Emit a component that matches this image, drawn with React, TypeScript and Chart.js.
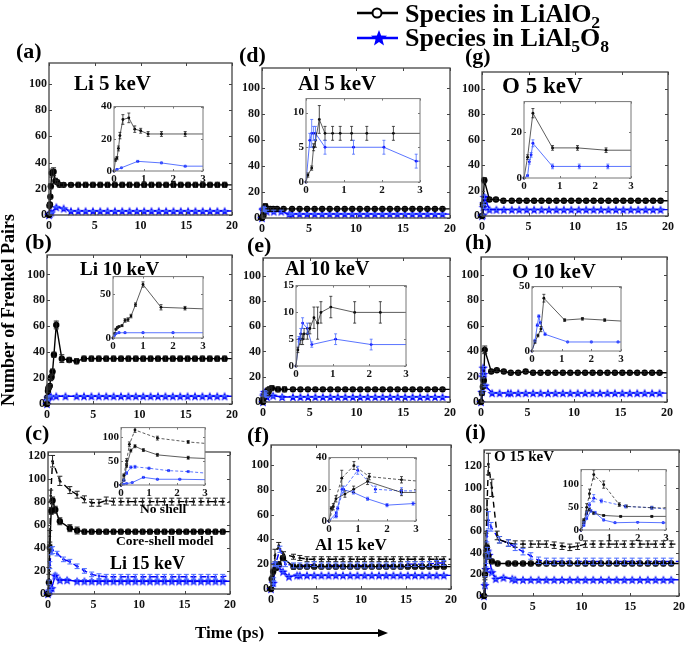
import React, { useEffect, useRef } from "react";
import { Chart, registerables } from "chart.js";
Chart.register(...registerables);

const SERIF = "'Liberation Serif', 'Times New Roman', Times, serif";
const BLUE = "#0000ff";

// ---------------- data ----------------
const LATE_T = [3.2, 4.0, 4.8, 5.6, 6.4, 7.2, 8.0, 8.8, 9.6, 10.4, 11.2,
  12.0, 12.8, 13.6, 14.4, 15.2, 16.0, 16.8, 17.6, 18.4, 19.2, 20.0];

const MAIN_X_TICKS = [0, 5, 10, 15, 20];
const MAIN_Y_TICKS = [0, 20, 40, 60, 80, 100];
const MAIN_Y_TICKS_15 = [0, 20, 40, 60, 80, 100, 120];
const INSET_X_TICKS = [0, 1, 2, 3];
const A_INSET_Y_TICKS = [0, 20, 40];
const D_INSET_Y_TICKS = [0, 5, 10];
const G_INSET_Y_TICKS = [0, 20];
const B_INSET_Y_TICKS = [0, 50];
const E_INSET_Y_TICKS = [0, 5, 10, 15];
const H_INSET_Y_TICKS = [0, 50];
const C_INSET_Y_TICKS = [0, 50, 100];
const F_INSET_Y_TICKS = [0, 20, 40];
const I_INSET_Y_TICKS = [0, 50, 100];

// (a) Li 5 keV
const A_LIALO2_T = [0, 0.05, 0.1, 0.15, 0.2, 0.3, 0.5, 0.7, 0.9, 1.15, 1.6, 2.4, ...LATE_T];
const A_LIALO2 = [0, 7, 8, 14, 22, 32, 33, 26, 25, 23, 23, 23,
  23, 23, 23, 23, 23, 23, 23, 23, 23, 23, 23,
  23, 23, 23, 23, 23, 23, 23, 23, 23, 23, 23];
const A_LIALO2_ERR = [0, 1, 1, 1.5, 2, 3, 3, 2, 1.5, 1.5, 1.5, 1.5,
  2, 2, 2, 2, 2, 2, 2, 2, 2, 2, 2,
  2, 2, 2, 2, 2, 2, 2, 2, 2, 2, 2];
const A_LIAL5O8_T = [0, 0.1, 0.25, 0.8, 1.6, 2.4, ...LATE_T];
const A_LIAL5O8 = [0, 1, 2, 6, 5, 3,
  3, 3, 3, 3, 3, 3, 3, 3, 3, 3, 3,
  3, 3, 3, 3, 3, 3, 3, 3, 3, 3, 3];
const A_LIAL5O8_ERR = [0, 0.3, 0.3, 0.6, 0.5, 0.5,
  0.5, 0.5, 0.5, 0.5, 0.5, 0.5, 0.5, 0.5, 0.5, 0.5, 0.5,
  0.5, 0.5, 0.5, 0.5, 0.5, 0.5, 0.5, 0.5, 0.5, 0.5, 0.5];

// (d) Al 5 keV
const D_LIALO2_T = [0, 0.05, 0.15, 0.2, 0.25, 0.35, 0.5, 0.7, 0.9, 1.2, 1.6, 2.3, ...LATE_T];
const D_LIALO2 = [0, 1, 2, 5, 6, 9, 7, 7, 7, 7, 7, 7,
  7, 7, 7, 7, 7, 7, 7, 7, 7, 7, 7,
  7, 7, 7, 7, 7, 7, 7, 7, 7, 7, 7];
const D_LIALO2_ERR = [0, 0.3, 0.3, 0.5, 1, 2, 1, 1, 1, 1, 1, 1,
  1, 1, 1, 1, 1, 1, 1, 1, 1, 1, 1,
  1, 1, 1, 1, 1, 1, 1, 1, 1, 1, 1];
const D_LIAL5O8_T = [0, 0.1, 0.15, 0.2, 0.25, 0.5, 1.25, 2.05, 2.9, ...LATE_T];
const D_LIAL5O8 = [0, 6, 7, 7, 7, 5, 5, 5, 3,
  3, 3, 3, 3, 3, 3, 3, 3, 3, 3, 3,
  3, 3, 3, 3, 3, 3, 3, 3, 3, 3, 3];
const D_LIAL5O8_ERR = [0, 1, 2, 1, 1, 1, 1, 1, 1,
  0.5, 0.5, 0.5, 0.5, 0.5, 0.5, 0.5, 0.5, 0.5, 0.5, 0.5,
  0.5, 0.5, 0.5, 0.5, 0.5, 0.5, 0.5, 0.5, 0.5, 0.5, 0.5];

// (g) O 5 keV
const G_LIALO2_T = [0, 0.1, 0.25, 0.8, 1.5, 2.3, ...LATE_T];
const G_LIALO2 = [0, 9, 28, 13, 13, 12,
  12, 12, 12, 12, 12, 12, 12, 12, 12, 12, 12,
  12, 12, 12, 12, 12, 12, 12, 12, 12, 12, 12];
const G_LIALO2_ERR = [0, 1, 2, 1, 1, 1,
  0.8, 0.8, 0.8, 0.8, 0.8, 0.8, 0.8, 0.8, 0.8, 0.8, 0.8,
  0.8, 0.8, 0.8, 0.8, 0.8, 0.8, 0.8, 0.8, 0.8, 0.8, 0.8];
const G_LIAL5O8_T = [0, 0.1, 0.15, 0.2, 0.25, 0.8, 1.55, 2.35, ...LATE_T];
const G_LIAL5O8 = [0, 1, 7, 10, 15, 5, 5, 5,
  5, 5, 5, 5, 5, 5, 5, 5, 5, 5, 5,
  5, 5, 5, 5, 5, 5, 5, 5, 5, 5, 5];
const G_LIAL5O8_ERR = [0, 0.5, 1, 1, 1.5, 1, 1, 1,
  0.5, 0.5, 0.5, 0.5, 0.5, 0.5, 0.5, 0.5, 0.5, 0.5, 0.5,
  0.5, 0.5, 0.5, 0.5, 0.5, 0.5, 0.5, 0.5, 0.5, 0.5, 0.5];

// (b) Li 10 keV
const B_LIALO2_T = [0, 0.05, 0.1, 0.15, 0.2, 0.3, 0.4, 0.5, 0.6, 0.75, 1.0, 1.6, 2.4, ...LATE_T];
const B_LIALO2 = [0, 5, 10, 12, 13, 14, 20, 21, 25, 38, 61, 35, 34,
  33, 35, 35, 35, 35, 35, 35, 35, 35, 35, 35,
  35, 35, 35, 35, 35, 35, 35, 35, 35, 35, 35];
const B_LIALO2_ERR = [0, 1, 1, 1, 1, 1, 2, 2, 2, 2, 3, 3, 2,
  2, 2, 2, 2, 2, 2, 2, 2, 2, 2, 2,
  2, 2, 2, 2, 2, 2, 2, 2, 2, 2, 2];
const B_LIAL5O8_T = [0, 0.05, 0.1, 0.2, 0.4, 1.0, 2.0, ...LATE_T];
const B_LIAL5O8 = [0, 3, 5, 6, 6, 6, 6,
  6, 6, 6, 6, 6, 6, 6, 6, 6, 6, 6,
  6, 6, 6, 6, 6, 6, 6, 6, 6, 6, 6];
const B_LIAL5O8_ERR = [0, 0.5, 0.5, 0.5, 0.5, 0.5, 0.5,
  0.5, 0.5, 0.5, 0.5, 0.5, 0.5, 0.5, 0.5, 0.5, 0.5, 0.5,
  0.5, 0.5, 0.5, 0.5, 0.5, 0.5, 0.5, 0.5, 0.5, 0.5, 0.5];

// (e) Al 10 keV
const E_LIALO2_T = [0, 0.05, 0.13, 0.18, 0.22, 0.31, 0.38, 0.49, 0.59, 0.68, 0.95, 1.6, 2.3, ...LATE_T];
const E_LIALO2 = [0, 3, 5, 5, 6, 6, 7, 9, 8, 10, 11, 10, 10,
  10, 10, 10, 10, 10, 10, 10, 10, 10, 10, 10,
  10, 10, 10, 10, 10, 10, 10, 10, 10, 10, 10];
const E_LIALO2_ERR = [0, 0.5, 1, 1, 1, 1, 1, 2, 3, 2, 2, 2, 2,
  1, 1, 1, 1, 1, 1, 1, 1, 1, 1, 1,
  1, 1, 1, 1, 1, 1, 1, 1, 1, 1, 1];
const E_LIAL5O8_T = [0, 0.08, 0.13, 0.18, 0.31, 0.43, 1.08, 2.05, ...LATE_T];
const E_LIAL5O8 = [0, 5, 6, 8, 7, 4, 5, 4,
  4, 4, 4, 4, 4, 4, 4, 4, 4, 4, 4,
  4, 4, 4, 4, 4, 4, 4, 4, 4, 4, 4];
const E_LIAL5O8_ERR = [0, 0.5, 1, 1, 1, 0.5, 1, 1,
  0.4, 0.4, 0.4, 0.4, 0.4, 0.4, 0.4, 0.4, 0.4, 0.4, 0.4,
  0.4, 0.4, 0.4, 0.4, 0.4, 0.4, 0.4, 0.4, 0.4, 0.4, 0.4];

// (h) O 10 keV
const H_LIALO2_T = [0, 0.1, 0.2, 0.3, 0.4, 1.1, 1.7, 2.45, ...LATE_T];
const H_LIALO2 = [0, 7, 12, 17, 41, 24, 25, 24,
  23, 23, 24, 23, 23, 23, 23, 23, 23, 23, 23,
  23, 23, 23, 23, 23, 23, 23, 23, 23, 23, 23];
const H_LIALO2_ERR = [0, 1, 1, 2, 3, 1, 1, 1,
  1, 1, 1, 1, 1, 1, 1, 1, 1, 1, 1,
  1, 1, 1, 1, 1, 1, 1, 1, 1, 1, 1];
const H_LIAL5O8_T = [0, 0.1, 0.18, 0.23, 0.28, 0.44, 1.2, 2.0, 2.9, ...LATE_T];
const H_LIAL5O8 = [0, 8, 20, 27, 22, 13, 7, 7, 7,
  7, 7, 7, 7, 7, 7, 7, 7, 7, 7, 7,
  7, 7, 7, 7, 7, 7, 7, 7, 7, 7, 7];
const H_LIAL5O8_ERR = [0, 1, 1, 1, 1, 1, 0.5, 0.5, 0.5,
  0.5, 0.5, 0.5, 0.5, 0.5, 0.5, 0.5, 0.5, 0.5, 0.5, 0.5,
  0.5, 0.5, 0.5, 0.5, 0.5, 0.5, 0.5, 0.5, 0.5, 0.5, 0.5];

// (c) Li 15 keV  (NS = no shell, CS = core-shell model)
const C_LIALO2_NS_T = [0, 0.1, 0.2, 0.3, 0.5, 1.3, 2.4, ...LATE_T];
const C_LIALO2_NS = [0, 20, 50, 85, 115, 98, 90,
  86, 82, 79, 79, 81, 80, 80, 80, 80, 80, 80,
  80, 80, 80, 80, 80, 80, 80, 80, 80, 80, 80];
const C_LIALO2_NS_ERR = [0, 3, 5, 5, 5, 4, 3,
  3, 3, 3, 3, 3, 3, 3, 3, 3, 3, 3,
  3, 3, 3, 3, 3, 3, 3, 3, 3, 3, 3];
const C_LIALO2_CS_T = [0, 0.1, 0.2, 0.35, 0.5, 0.8, 1.3, 2.4, ...LATE_T];
const C_LIALO2_CS = [0, 10, 40, 72, 81, 73, 63, 57,
  55, 54, 54, 54, 54, 54, 54, 54, 54, 54, 54,
  54, 54, 54, 54, 54, 54, 54, 54, 54, 54, 54];
const C_LIALO2_CS_ERR = [0, 2, 3, 3, 3, 3, 3, 3,
  3, 2, 2, 2, 2, 2, 2, 2, 2, 2, 2,
  2, 2, 2, 2, 2, 2, 2, 2, 2, 2, 2];
const C_LIAL5O8_NS_T = [0, 0.1, 0.2, 0.35, 0.5, 1.0, 1.7, 2.4, ...LATE_T];
const C_LIAL5O8_NS = [0, 10, 25, 37, 38, 35, 30, 28,
  24, 20, 17, 15.5, 15, 15, 15, 15, 15, 15, 15,
  15, 15, 15, 15, 15, 15, 15, 15, 15, 15, 16];
const C_LIAL5O8_NS_ERR = [0, 2, 3, 3, 3, 2, 2, 2,
  2, 2, 2, 2, 2, 2, 2, 2, 2, 2, 2,
  2, 2, 2, 2, 2, 2, 2, 2, 2, 2, 2];
const C_LIAL5O8_CS_T = [0, 0.1, 0.2, 0.4, 0.8, 1.3, 2.1, ...LATE_T];
const C_LIAL5O8_CS = [0, 2, 3, 5, 16, 12, 12,
  11, 11, 11, 11, 11, 11, 11, 11, 11, 11, 11,
  11, 11, 11, 11, 11, 11, 11, 11, 11, 11, 11];
const C_LIAL5O8_CS_ERR = [0, 1, 1, 1, 2, 1.5, 1.5,
  1.5, 1.5, 1.5, 1.5, 1.5, 1.5, 1.5, 1.5, 1.5, 1.5, 1.5,
  1.5, 1.5, 1.5, 1.5, 1.5, 1.5, 1.5, 1.5, 1.5, 1.5, 1.5];

// (f) Al 15 keV
const F_LIALO2_NS_T = [0, 0.15, 0.44, 0.86, 1.39, 2.5, ...LATE_T];
const F_LIALO2_NS = [0, 9, 27, 35, 28, 26,
  25, 24, 24, 24, 24, 24, 24, 24, 24, 24, 24,
  24, 24, 24, 24, 24, 24, 24, 24, 24, 24, 24];
const F_LIALO2_NS_ERR = [0, 2, 5, 2.5, 2, 2,
  2, 2, 2, 2, 2, 2, 2, 2, 2, 2, 2,
  2, 2, 2, 2, 2, 2, 2, 2, 2, 2, 2];
const F_LIALO2_CS_T = [0, 0.08, 0.24, 0.55, 0.85, 1.33, 2.5, ...LATE_T];
const F_LIALO2_CS = [0, 8, 14, 17, 20, 25, 18,
  18, 18, 18, 18, 18, 18, 18, 18, 18, 18, 18,
  18, 18, 18, 18, 18, 18, 18, 18, 18, 18, 18];
const F_LIALO2_CS_ERR = [0, 1, 2, 2, 2, 2, 2,
  1.5, 1.5, 1.5, 1.5, 1.5, 1.5, 1.5, 1.5, 1.5, 1.5, 1.5,
  1.5, 1.5, 1.5, 1.5, 1.5, 1.5, 1.5, 1.5, 1.5, 1.5, 1.5];
const F_LIAL5O8_NS_T = [0, 0.25, 0.3, 0.5, 0.99, 1.6, 2.5, ...LATE_T];
const F_LIAL5O8_NS = [0, 3, 8, 20, 32, 20, 19,
  19, 19, 20, 19, 19, 19, 19, 19, 19, 19, 19,
  19, 19, 19, 19, 20, 20, 20, 20, 21, 21];
const F_LIAL5O8_NS_ERR = [0, 1, 1, 2, 2.5, 2, 2,
  2, 2, 2, 2, 2, 2, 2, 2, 2, 2, 2,
  2, 2, 2, 2, 2, 2, 2, 2, 2, 2];
const F_LIAL5O8_CS_T = [0, 0.25, 0.45, 0.84, 1.33, 2.0, 2.9, ...LATE_T];
const F_LIAL5O8_CS = [0, 5, 20, 18, 14, 10, 11,
  11, 11, 11, 11, 11, 11, 11, 11, 11, 11, 11,
  11, 11, 11, 11, 11, 11, 11, 11, 11, 11, 11];
const F_LIAL5O8_CS_ERR = [0, 1, 1, 1, 1, 1, 1,
  0.6, 0.6, 0.6, 0.6, 0.6, 0.6, 0.6, 0.6, 0.6, 0.6, 0.6,
  0.6, 0.6, 0.6, 0.6, 0.6, 0.6, 0.6, 0.6, 0.6, 0.6, 0.6];

// (i) O 15 keV
const I_LIALO2_NS_T = [0, 0.1, 0.2, 0.3, 0.45, 0.8, 1.35, 1.6, 2.5, ...LATE_T];
const I_LIALO2_NS = [0, 20, 50, 80, 122, 100, 56, 52, 49,
  48, 48, 48, 48, 48, 47, 46, 45, 46, 48, 48,
  48, 48, 48, 48, 48, 48, 48, 48, 48, 48, 48];
const I_LIALO2_NS_ERR = [0, 5, 8, 10, 10, 8, 4, 3, 3,
  3, 3, 3, 3, 3, 3, 3, 3, 3, 3, 3,
  3, 3, 3, 3, 3, 3, 3, 3, 3, 3, 3];
const I_LIALO2_CS_T = [0, 0.1, 0.2, 0.3, 0.45, 0.8, 1.4, 2.5, ...LATE_T];
const I_LIALO2_CS = [0, 20, 38, 45, 37, 32, 30, 30,
  30, 30, 30, 30, 30, 30, 30, 30, 30, 30, 30,
  30, 30, 30, 30, 30, 30, 30, 30, 30, 30, 30];
const I_LIALO2_CS_ERR = [0, 3, 3, 3, 3, 2, 2, 2,
  2, 2, 2, 2, 2, 2, 2, 2, 2, 2, 2,
  2, 2, 2, 2, 2, 2, 2, 2, 2, 2, 2];
const I_LIAL5O8_NS_T = [0, 0.1, 0.2, 0.3, 0.45, 0.72, 1.57, 2.5, ...LATE_T];
const I_LIAL5O8_NS = [0, 15, 35, 55, 70, 64, 52, 49,
  45, 41, 37, 33, 32, 32, 32, 32, 32, 32, 32,
  32, 32, 32, 32, 32, 32, 32, 32, 32, 32, 32];
const I_LIAL5O8_NS_ERR = [0, 3, 5, 5, 8, 4, 3, 3,
  3, 3, 3, 3, 3, 3, 3, 3, 3, 3, 3,
  3, 3, 3, 3, 3, 3, 3, 3, 3, 3, 3];
const I_LIAL5O8_CS_T = [0, 0.1, 0.2, 0.35, 0.5, 0.8, 1.2, 2.0, 2.9, ...LATE_T];
const I_LIAL5O8_CS = [0, 10, 25, 42, 38, 22, 16, 17, 16,
  15, 15, 15, 15, 15, 15, 15, 15, 15, 15, 15,
  15, 15, 15, 15, 15, 15, 15, 15, 15, 15, 15];
const I_LIAL5O8_CS_ERR = [0, 2, 2, 3, 3, 2, 1, 1, 1,
  1, 1, 1, 1, 1, 1, 1, 1, 1, 1, 1,
  1, 1, 1, 1, 1, 1, 1, 1, 1, 1, 1];

// ---------------- types & series ----------------
type SeriesDef = { t: number[]; y: number[]; e: number[]; black: boolean; dashed: boolean };
type Box = { L: number; T: number; R: number; B: number };
type Pad = { l: number; t: number; r: number; b: number };

const S = (t: number[], y: number[], e: number[], black: boolean, dashed: boolean): SeriesDef => ({ t, y, e, black, dashed });

const PANELS = [
  { series: [S(A_LIALO2_T, A_LIALO2, A_LIALO2_ERR, true, false), S(A_LIAL5O8_T, A_LIAL5O8, A_LIAL5O8_ERR, false, false)],
    main: { L: 49, T: 63, R: 232, B: 215 }, mainYMax: 116, mainYTicks: MAIN_Y_TICKS,
    inset: { L: 114, T: 106, R: 203, B: 171 }, insetYMax: 40, insetYTicks: A_INSET_Y_TICKS },
  { series: [S(D_LIALO2_T, D_LIALO2, D_LIALO2_ERR, true, false), S(D_LIAL5O8_T, D_LIAL5O8, D_LIAL5O8_ERR, false, false)],
    main: { L: 262, T: 68, R: 450, B: 218 }, mainYMax: 115, mainYTicks: MAIN_Y_TICKS,
    inset: { L: 306, T: 98, R: 420, B: 182 }, insetYMax: 12, insetYTicks: D_INSET_Y_TICKS },
  { series: [S(G_LIALO2_T, G_LIALO2, G_LIALO2_ERR, true, false), S(G_LIAL5O8_T, G_LIAL5O8, G_LIAL5O8_ERR, false, false)],
    main: { L: 482, T: 72, R: 668, B: 216 }, mainYMax: 113, mainYTicks: MAIN_Y_TICKS,
    inset: { L: 524, T: 101, R: 631, B: 178 }, insetYMax: 33, insetYTicks: G_INSET_Y_TICKS },
  { series: [S(B_LIALO2_T, B_LIALO2, B_LIALO2_ERR, true, false), S(B_LIAL5O8_T, B_LIAL5O8, B_LIAL5O8_ERR, false, false)],
    main: { L: 47, T: 255, R: 232, B: 404 }, mainYMax: 115, mainYTicks: MAIN_Y_TICKS,
    inset: { L: 113, T: 276, R: 203, B: 338 }, insetYMax: 70, insetYTicks: B_INSET_Y_TICKS },
  { series: [S(E_LIALO2_T, E_LIALO2, E_LIALO2_ERR, true, false), S(E_LIAL5O8_T, E_LIAL5O8, E_LIAL5O8_ERR, false, false)],
    main: { L: 263, T: 258, R: 450, B: 402 }, mainYMax: 114, mainYTicks: MAIN_Y_TICKS,
    inset: { L: 296, T: 285, R: 406, B: 366 }, insetYMax: 15, insetYTicks: E_INSET_Y_TICKS },
  { series: [S(H_LIALO2_T, H_LIALO2, H_LIALO2_ERR, true, false), S(H_LIAL5O8_T, H_LIAL5O8, H_LIAL5O8_ERR, false, false)],
    main: { L: 481, T: 257, R: 667, B: 402 }, mainYMax: 114, mainYTicks: MAIN_Y_TICKS,
    inset: { L: 532, T: 286, R: 621, B: 351 }, insetYMax: 50, insetYTicks: H_INSET_Y_TICKS },
  { series: [S(C_LIALO2_NS_T, C_LIALO2_NS, C_LIALO2_NS_ERR, true, true), S(C_LIALO2_CS_T, C_LIALO2_CS, C_LIALO2_CS_ERR, true, false),
             S(C_LIAL5O8_NS_T, C_LIAL5O8_NS, C_LIAL5O8_NS_ERR, false, true), S(C_LIAL5O8_CS_T, C_LIAL5O8_CS, C_LIAL5O8_CS_ERR, false, false)],
    main: { L: 48, T: 452, R: 230, B: 594 }, mainYMax: 123, mainYTicks: MAIN_Y_TICKS_15,
    inset: { L: 121, T: 427, R: 205, B: 485 }, insetYMax: 120, insetYTicks: C_INSET_Y_TICKS },
  { series: [S(F_LIALO2_NS_T, F_LIALO2_NS, F_LIALO2_NS_ERR, true, true), S(F_LIALO2_CS_T, F_LIALO2_CS, F_LIALO2_CS_ERR, true, false),
             S(F_LIAL5O8_NS_T, F_LIAL5O8_NS, F_LIAL5O8_NS_ERR, false, true), S(F_LIAL5O8_CS_T, F_LIAL5O8_CS, F_LIAL5O8_CS_ERR, false, false)],
    main: { L: 271, T: 445, R: 451, B: 589 }, mainYMax: 116, mainYTicks: MAIN_Y_TICKS,
    inset: { L: 329, T: 457, R: 416, B: 521 }, insetYMax: 40, insetYTicks: F_INSET_Y_TICKS },
  { series: [S(I_LIALO2_NS_T, I_LIALO2_NS, I_LIALO2_NS_ERR, true, true), S(I_LIALO2_CS_T, I_LIALO2_CS, I_LIALO2_CS_ERR, true, false),
             S(I_LIAL5O8_NS_T, I_LIAL5O8_NS, I_LIAL5O8_NS_ERR, false, true), S(I_LIAL5O8_CS_T, I_LIAL5O8_CS, I_LIAL5O8_CS_ERR, false, false)],
    main: { L: 484, T: 450, R: 679, B: 596 }, mainYMax: 135, mainYTicks: MAIN_Y_TICKS_15,
    inset: { L: 581, T: 469, R: 666, B: 530 }, insetYMax: 133, insetYTicks: I_INSET_Y_TICKS },
];

const PANEL_TAGS = [
  { text: "(a)", x: 16, y: 51 }, { text: "(d)", x: 239, y: 55 }, { text: "(g)", x: 465, y: 56 },
  { text: "(b)", x: 25, y: 242 }, { text: "(e)", x: 247, y: 245 }, { text: "(h)", x: 465, y: 242 },
  { text: "(c)", x: 25, y: 433 }, { text: "(f)", x: 247, y: 435 }, { text: "(i)", x: 465, y: 432 },
];
const PANEL_TITLES = [
  { text: "Li 5 keV", x: 74, y: 83, size: 21 },
  { text: "Al 5 keV", x: 298, y: 83, size: 21 },
  { text: "O 5 keV", x: 502, y: 85, size: 23 },
  { text: "Li 10 keV", x: 80, y: 268, size: 19 },
  { text: "Al 10 keV", x: 285, y: 268, size: 20 },
  { text: "O 10 keV", x: 512, y: 271, size: 21 },
  { text: "Li 15 keV", x: 110, y: 563, size: 18 },
  { text: "Al 15 keV", x: 315, y: 544, size: 17 },
  { text: "O 15 keV", x: 494, y: 456, size: 15 },
  { text: "No shell", x: 140, y: 509, size: 13.5 },
  { text: "Core-shell model", x: 116, y: 541, size: 13.5 },
];

// ---------------- helpers ----------------
function makeStar(color: string, outer: number, inner: number) {
  const size = Math.ceil(outer * 2 + 2);
  const c = document.createElement("canvas");
  c.width = size; c.height = size;
  const g = c.getContext("2d")!;
  g.fillStyle = color;
  g.beginPath();
  for (let k = 0; k < 10; k++) {
    const r = k % 2 === 0 ? outer : inner;
    const a = -Math.PI / 2 + (k * Math.PI) / 5;
    const px = size / 2 + r * Math.cos(a), py = size / 2 + 0.5 + r * Math.sin(a);
    if (k === 0) g.moveTo(px, py); else g.lineTo(px, py);
  }
  g.closePath(); g.fill();
  return c;
}

function starPoints(cx: number, cy: number, R: number, r: number) {
  const pts: string[] = [];
  for (let k = 0; k < 10; k++) {
    const rr = k % 2 === 0 ? R : r;
    const a = -Math.PI / 2 + (k * Math.PI) / 5;
    pts.push(`${(cx + rr * Math.cos(a)).toFixed(2)},${(cy + rr * Math.sin(a)).toFixed(2)}`);
  }
  return pts.join(" ");
}

const framePlugin = (inset: boolean) => ({
  id: "frame",
  beforeDatasetsDraw(chart: any) {
    if (!inset) return;
    const { ctx, chartArea: a } = chart;
    ctx.save();
    ctx.fillStyle = "#fff";
    ctx.fillRect(a.left, a.top, a.right - a.left, a.bottom - a.top);
    ctx.restore();
  },
  afterDraw(chart: any) {
    const { ctx, chartArea: a, scales } = chart;
    const len = inset ? 2 : 3;
    ctx.save();
    ctx.strokeStyle = inset ? "#777" : "#444";
    ctx.lineWidth = inset ? 1 : 1.3;
    ctx.strokeRect(a.left, a.top, a.right - a.left, a.bottom - a.top);
    ctx.lineWidth = 1;
    ctx.beginPath();
    for (const t of scales.x.ticks) {
      const px = Math.round(scales.x.getPixelForValue(t.value)) + 0.5;
      ctx.moveTo(px, a.bottom); ctx.lineTo(px, a.bottom - len);
      ctx.moveTo(px, a.top); ctx.lineTo(px, a.top + len);
    }
    for (const t of scales.y.ticks) {
      const py = Math.round(scales.y.getPixelForValue(t.value)) + 0.5;
      ctx.moveTo(a.left, py); ctx.lineTo(a.left + len, py);
      ctx.moveTo(a.right, py); ctx.lineTo(a.right - len, py);
    }
    ctx.stroke();
    ctx.restore();
  },
});

const errorBarPlugin = (inset: boolean) => ({
  id: "errbars",
  afterDatasetsDraw(chart: any) {
    const { ctx, chartArea: a } = chart;
    const ys = chart.scales.y;
    ctx.save();
    ctx.beginPath();
    ctx.rect(a.left - 4, a.top, a.right - a.left + 4, a.bottom - a.top + 4);
    ctx.clip();
    chart.data.datasets.forEach((ds: any, i: number) => {
      const meta = chart.getDatasetMeta(i);
      const errs: number[] = ds.errors || [];
      ctx.strokeStyle = ds.errColor;
      ctx.lineWidth = inset ? 0.8 : 1;
      const cw = inset ? 1.5 : 2.5;
      meta.data.forEach((el: any, j: number) => {
        const e = errs[j];
        const v = ds.data[j].y;
        if (!e || el.x >= a.right - 0.5) return;
        const y1 = ys.getPixelForValue(v + e), y2 = ys.getPixelForValue(v - e);
        const x = el.x;
        ctx.beginPath();
        ctx.moveTo(x, y1); ctx.lineTo(x, y2);
        ctx.moveTo(x - cw, y1); ctx.lineTo(x + cw, y1);
        ctx.moveTo(x - cw, y2); ctx.lineTo(x + cw, y2);
        ctx.stroke();
      });
    });
    ctx.restore();
  },
});

function buildDataset(s: SeriesDef, inset: boolean, star: HTMLCanvasElement) {
  const color = s.black ? "#000" : BLUE;
  const lineColor = inset ? (s.black ? "#333" : "#3050ff") : color;
  let pointStyle: any = "circle";
  let r = 1.4;
  if (!inset) {
    if (s.dashed) r = 1.3;
    else if (s.black) r = 3.2;
    else { pointStyle = star; r = 4; }
  }
  return {
    data: s.t.map((x, i) => ({ x, y: s.y[i] })),
    errors: s.e,
    errColor: s.black ? "#222" : "#4a6bff",
    borderColor: lineColor,
    backgroundColor: color,
    borderWidth: inset ? 0.8 : 1.4,
    borderDash: s.dashed ? (inset ? [3, 2] : [6, 4]) : [],
    pointStyle,
    pointRadius: (ctx: any) => (ctx.raw && ctx.raw.x >= 20 ? 0 : r),
    pointHoverRadius: r,
    pointBackgroundColor: color,
    pointBorderColor: color,
    pointBorderWidth: 0,
    tension: 0,
    fill: false,
    clip: inset ? { left: 3, top: 2, right: 0, bottom: 3 } : { left: 5, top: 2, right: 0, bottom: 5 },
  };
}

type PlotProps = {
  box: Box; pad: Pad; inset: boolean; xMax: number; xTicks: number[];
  yMax: number; yTicks: number[]; series: SeriesDef[];
};

function Plot(props: PlotProps) {
  const ref = useRef<HTMLCanvasElement | null>(null);
  const { box, pad, inset } = props;
  const w = box.R - box.L + pad.l + pad.r;
  const h = box.B - box.T + pad.t + pad.b;
  useEffect(() => {
    const star = makeStar(BLUE, 5, 2.1);
    const font = { family: SERIF, size: inset ? 11 : 12, weight: "bold" as const };
    const datasets = props.series.map((s) => buildDataset(s, inset, star));
    const chart = new Chart(ref.current!, {
      type: "line",
      data: { datasets } as any,
      options: {
        responsive: false,
        animation: false,
        devicePixelRatio: 1,
        events: [],
        layout: { padding: { left: 0, top: pad.t, right: pad.r, bottom: 0 } },
        plugins: { legend: { display: false }, tooltip: { enabled: false } },
        scales: {
          x: {
            type: "linear", min: 0, max: props.xMax,
            grid: { display: false, drawTicks: false }, border: { display: false },
            ticks: { font, color: "#111", padding: inset ? 2 : 4, maxRotation: 0, autoSkip: false },
            afterBuildTicks: (s: any) => { s.ticks = props.xTicks.map((v) => ({ value: v })); },
            afterFit: (s: any) => { s.height = pad.b; },
          },
          y: {
            type: "linear", min: 0, max: props.yMax,
            grid: { display: false, drawTicks: false }, border: { display: false },
            ticks: { font, color: "#111", padding: inset ? 2 : 2, autoSkip: false },
            afterBuildTicks: (s: any) => { s.ticks = props.yTicks.map((v) => ({ value: v })); },
            afterFit: (s: any) => { s.width = pad.l; },
          },
        },
      } as any,
      plugins: [framePlugin(inset), errorBarPlugin(inset)] as any,
    });
    return () => chart.destroy();
  }, []);
  return (
    <canvas
      ref={ref}
      width={w}
      height={h}
      style={{ position: "absolute", left: box.L - pad.l, top: box.T - pad.t, width: w, height: h }}
    />
  );
}

const MAIN_PAD: Pad = { l: 40, t: 10, r: 12, b: 20 };
const INSET_PAD: Pad = { l: 22, t: 8, r: 8, b: 15 };

const textStyle = (x: number, y: number, size: number): React.CSSProperties => ({
  position: "absolute", left: x, top: y, transform: "translateY(-50%)",
  fontFamily: SERIF, fontWeight: "bold", fontSize: size, lineHeight: 1,
  whiteSpace: "nowrap", color: "#000", pointerEvents: "none",
});

const subStyle: React.CSSProperties = { fontSize: "0.68em", position: "relative", top: "0.32em" };

export default function App() {
  return (
    <div style={{ position: "absolute", left: 0, top: 0, width: 685, height: 649, background: "#fff", overflow: "hidden" }}>
      {PANELS.map((p, i) => (
        <Plot key={"m" + i} box={p.main} pad={MAIN_PAD} inset={false} xMax={20} xTicks={MAIN_X_TICKS}
          yMax={p.mainYMax} yTicks={p.mainYTicks} series={p.series} />
      ))}
      {PANELS.map((p, i) => (
        <Plot key={"i" + i} box={p.inset} pad={INSET_PAD} inset={true} xMax={3} xTicks={INSET_X_TICKS}
          yMax={p.insetYMax} yTicks={p.insetYTicks} series={p.series} />
      ))}
      {PANEL_TAGS.map((t, i) => (
        <div key={"t" + i} style={textStyle(t.x, t.y, 22)}>{t.text}</div>
      ))}
      {PANEL_TITLES.map((t, i) => (
        <div key={"ti" + i} style={textStyle(t.x, t.y, t.size)}>{t.text}</div>
      ))}
      {/* legend */}
      <svg width={685} height={649} style={{ position: "absolute", left: 0, top: 0, pointerEvents: "none" }}>
        <line x1={357} y1={13} x2={398} y2={13} stroke="#000" strokeWidth={2.5} />
        <circle cx={377} cy={13} r={4.5} fill="#fff" stroke="#000" strokeWidth={2} />
        <line x1={357} y1={38} x2={398} y2={38} stroke={BLUE} strokeWidth={2.5} />
        <polygon points={starPoints(379, 38.5, 8.5, 3.6)} fill={BLUE} />
        <line x1={278} y1={633} x2={380} y2={633} stroke="#000" strokeWidth={2} />
        <polygon points="378,629 388,633 378,637" fill="#000" />
      </svg>
      <div style={textStyle(405, 14, 26)}>Species in LiAlO<span style={subStyle}>2</span></div>
      <div style={textStyle(405, 38, 26)}>Species in LiAl<span style={subStyle}>5</span>O<span style={subStyle}>8</span></div>
      <div style={textStyle(195, 632, 17)}>Time (ps)</div>
      <div
        style={{
          position: "absolute", left: 8, top: 310, transform: "translate(-50%, -50%) rotate(-90deg)",
          fontFamily: SERIF, fontWeight: "bold", fontSize: 18, lineHeight: 1, whiteSpace: "nowrap", color: "#000",
        }}
      >
        Number of Frenkel Pairs
      </div>
    </div>
  );
}
